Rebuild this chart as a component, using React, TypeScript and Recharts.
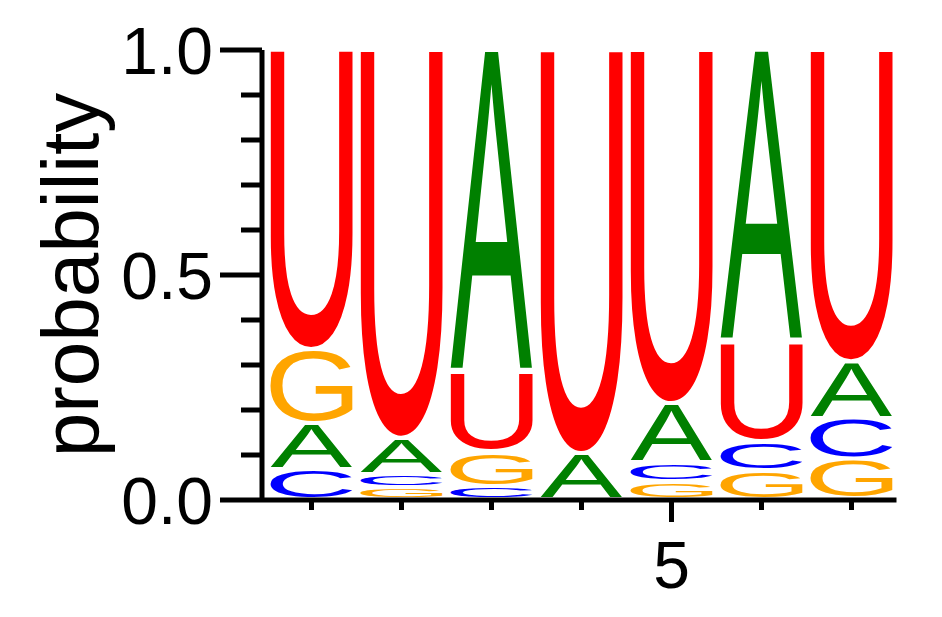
import React from 'react'
import { BarChart, Bar, XAxis, YAxis } from 'recharts'

// sequence positions and per-base probabilities (bottom→top ordering is by size)
const positions = [1, 2, 3, 4, 5, 6, 7]
const probA = [0.104, 0.080, 0.718, 0.102, 0.132, 0.650, 0.127]
const probC = [0.066, 0.029, 0.029, 0.000, 0.042, 0.065, 0.090]
const probG = [0.163, 0.027, 0.077, 0.000, 0.039, 0.064, 0.089]
const probU = [0.667, 0.864, 0.176, 0.898, 0.787, 0.221, 0.694]

const bases = ['A', 'C', 'G', 'U']
const baseProbs: Record<string, number[]> = { A: probA, C: probC, G: probG, U: probU }
const baseColors: Record<string, string> = { A: '#008000', C: '#0000FF', G: '#FFA500', U: '#FF0000' }

const yTicks = [0, 0.1, 0.2, 0.3, 0.4, 0.5, 0.6, 0.7, 0.8, 0.9, 1]
const yTickLabels: Record<string, string> = { '0': '0.0', '0.5': '0.5', '1': '1.0' }
const xTickLabels: Record<string, string> = { '5': '5' }

const FONT = "'Liberation Sans', Arial, Helvetica, sans-serif"
const MEASURE = 200
const LINE_W = 5

// build stacked slots: slot 0 = smallest base at each position
const rows = positions.map((pos, i) => {
  const sorted = bases.map(b => ({ b, p: baseProbs[b][i] })).sort((a, c) => a.p - c.p)
  const row: Record<string, number | string> = { pos }
  sorted.forEach((e, k) => {
    row['v' + k] = e.p
    row['b' + k] = e.b
  })
  return row
})
const slots = [0, 1, 2, 3]

const glyphCache: Record<string, { left: number; right: number; ascent: number; descent: number }> = {}
function glyphBox(ch: string) {
  if (glyphCache[ch]) return glyphCache[ch]
  let box = { left: -MEASURE * 0.04, right: MEASURE * 0.68, ascent: MEASURE * 0.72, descent: 0 }
  try {
    const ctx = document.createElement('canvas').getContext('2d')!
    ctx.font = `${MEASURE}px ${FONT}`
    const m = ctx.measureText(ch)
    box = {
      left: m.actualBoundingBoxLeft,
      right: m.actualBoundingBoxRight,
      ascent: m.actualBoundingBoxAscent,
      descent: m.actualBoundingBoxDescent,
    }
  } catch (e) { /* keep fallback */ }
  glyphCache[ch] = box
  return box
}

// letter stretched to fill its stack rectangle
function Letter(props: any) {
  const { x, y, width, height, base } = props
  if (!base || !height || height < 2) return <g />
  const top = y + 1
  const h = height - 4
  if (h <= 0) return <g />
  const g = glyphBox(base)
  const inkW = g.left + g.right
  const inkH = g.ascent + g.descent
  const t = `translate(${x},${top}) scale(${width / inkW},${h / inkH}) translate(${g.left},${g.ascent})`
  return (
    <text transform={t} x={0} y={0} fontSize={MEASURE} fontFamily={FONT} fill={baseColors[base]}>
      {base}
    </text>
  )
}

function YTick(props: any) {
  const { x, y, payload } = props
  const label = yTickLabels[String(payload.value)]
  const len = label ? 42 : 21
  return (
    <g>
      <line x1={x - len} x2={x} y1={y} y2={y} stroke="#000" strokeWidth={LINE_W} />
      {label && (
        <text x={x - len - 7} y={y + 24} textAnchor="end" fontSize={66} fontFamily={FONT} fill="#000">
          {label}
        </text>
      )}
    </g>
  )
}

function XTick(props: any) {
  const { x, y, payload } = props
  const label = xTickLabels[String(payload.value)]
  const len = label ? 22 : 10
  return (
    <g>
      <line x1={x} x2={x} y1={y} y2={y + len} stroke="#000" strokeWidth={LINE_W} />
      {label && (
        <text x={x} y={y + 88} textAnchor="middle" fontSize={66} fontFamily={FONT} fill="#000">
          {label}
        </text>
      )}
    </g>
  )
}

function YTitle(props: any) {
  const { viewBox } = props
  const cx = 98
  const cy = viewBox.y + viewBox.height / 2
  return (
    <text x={cx} y={cy} transform={`rotate(-90, ${cx}, ${cy})`} textAnchor="middle"
      fontSize={80} fontFamily={FONT} fill="#000">
      probability
    </text>
  )
}

export default function App() {
  return (
    <div style={{ position: 'absolute', left: 0, top: 0, background: '#fff' }}>
      <BarChart width={942} height={617} data={rows}
        margin={{ top: 50, right: 45.5, bottom: 0, left: 0 }}>
        <XAxis
          dataKey="pos" type="number" domain={[0.5, 7.5]} ticks={positions} interval={0}
          padding={{ left: 4.5, right: 0 }} height={117}
          axisLine={{ stroke: '#000', strokeWidth: LINE_W }} tickLine={false}
          tickSize={0} tickMargin={0} tick={<XTick />}
        />
        <YAxis
          type="number" domain={[0, 1]} ticks={yTicks} interval={0} width={262}
          axisLine={{ stroke: '#000', strokeWidth: LINE_W }} tickLine={false}
          tickSize={0} tickMargin={0} tick={<YTick />}
          label={{ content: <YTitle /> } as any}
        />
        {slots.map(k => (
          <Bar key={k} dataKey={'v' + k} stackId="logo" barSize={82} isAnimationActive={false}
            shape={(p: any) => <Letter {...p} base={p.payload['b' + k]} />} />
        ))}
      </BarChart>
    </div>
  )
}
